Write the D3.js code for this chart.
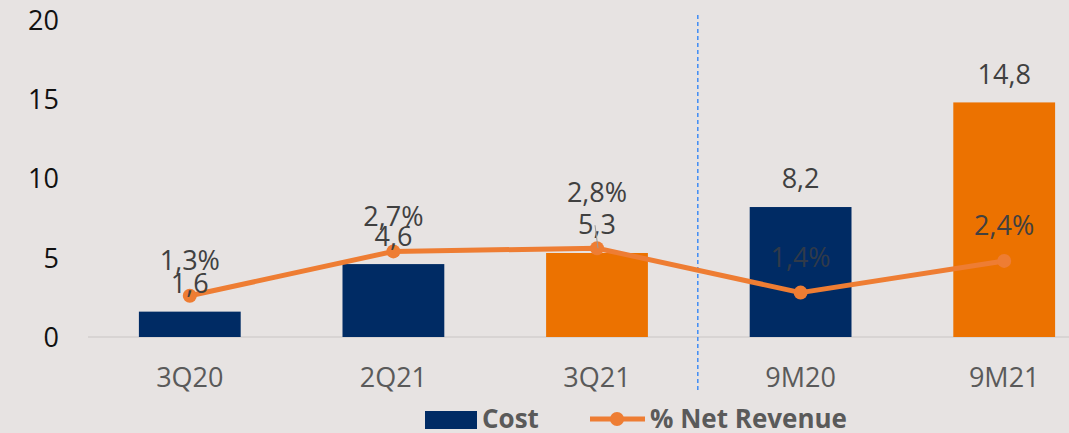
<!DOCTYPE html>
<html>
<head>
<meta charset="utf-8">
<script src="https://cdn.jsdelivr.net/npm/d3@7"></script>
<style>
  html, body { margin: 0; padding: 0; background: #e7e3e2; }
  svg { display: block; }
</style>
</head>
<body>
<svg id="chart" width="1069" height="433"></svg>
<script>

/* ── data ── */
const periods   = ['3Q20', '2Q21', '3Q21', '9M20', '9M21'];
const costs     = [1.6, 4.6, 5.3, 8.2, 14.8];
const pctNetRev = [1.3, 2.7, 2.8, 1.4, 2.4];
const highlight = [false, false, true, false, true];
const yTicks    = [0, 5, 10, 15, 20];

const navy   = '#002b64';
const orange = '#ec7200';
const lineCol = '#ee7d33';
const fontFam = '"Open Sans", "Noto Sans", sans-serif';

const svg = d3.select('#chart');

/* ── scales ── */
const x = d3.scaleBand().domain(periods).range([88, 1106]).paddingInner(0.5).paddingOuter(0.25);
const y = d3.scaleLinear().domain([0, 20]).range([337, 20]);
const y2 = d3.scaleLinear().domain([0, 10]).range([337, 20]);

/* ── baseline ── */
svg.append('line')
  .attr('x1', 88).attr('x2', 1069)
  .attr('y1', y(0)).attr('y2', y(0))
  .attr('stroke', '#d3cfce').attr('stroke-width', 1.5);

/* ── y axis ── */
const yAxis = svg.append('g')
  .attr('transform', 'translate(59,0)')
  .call(d3.axisLeft(y).tickValues(yTicks).tickSize(0).tickPadding(0));
yAxis.select('.domain').remove();
yAxis.selectAll('text')
  .attr('font-family', fontFam).attr('font-size', 27)
  .attr('fill', '#111').attr('dy', '0.35em');

/* ── x axis ── */
const xAxis = svg.append('g')
  .attr('transform', `translate(0,${y(0)})`)
  .call(d3.axisBottom(x).tickSize(0).tickPadding(41));
xAxis.select('.domain').remove();
xAxis.selectAll('text')
  .attr('font-family', fontFam).attr('font-size', 27)
  .attr('fill', '#5a5a5a').attr('dy', '0.35em');

/* ── dashed separator between quarters and 9M ── */
const sepX = (x('3Q21') + x.bandwidth() + x('9M20')) / 2 - 1;
svg.append('line')
  .attr('x1', sepX).attr('x2', sepX)
  .attr('y1', 15).attr('y2', 392)
  .attr('stroke', '#3f8cf5').attr('stroke-width', 1.5)
  .attr('stroke-dasharray', '4,3');

/* ── bars ── */
svg.selectAll('rect.bar')
  .data(periods)
  .join('rect')
  .attr('class', 'bar')
  .attr('x', d => x(d))
  .attr('width', x.bandwidth())
  .attr('y', (d, i) => y(costs[i]))
  .attr('height', (d, i) => y(0) - y(costs[i]))
  .attr('fill', (d, i) => highlight[i] ? orange : navy);

/* ── line ── */
const cx = d => x(d) + x.bandwidth() / 2;
const line = d3.line()
  .x(d => cx(d))
  .y((d, i) => y2(pctNetRev[i]));

svg.append('path')
  .datum(periods)
  .attr('d', line)
  .attr('fill', 'none')
  .attr('stroke', lineCol)
  .attr('stroke-width', 5)
  .attr('stroke-linejoin', 'round');

svg.selectAll('circle.pt')
  .data(periods)
  .join('circle')
  .attr('class', 'pt')
  .attr('cx', d => cx(d))
  .attr('cy', (d, i) => y2(pctNetRev[i]))
  .attr('r', 7)
  .attr('fill', lineCol);

const fmt = v => String(v).replace('.', ',');

/* ── cost labels ── */
svg.selectAll('text.cost-lbl')
  .data(periods)
  .join('text')
  .attr('class', 'cost-lbl')
  .attr('x', d => cx(d))
  .attr('y', (d, i) => y(costs[i]) - 28)
  .attr('dy', '0.35em')
  .attr('text-anchor', 'middle')
  .attr('font-family', fontFam).attr('font-size', 27)
  .attr('fill', '#404040')
  .text((d, i) => fmt(costs[i]));

/* ── percentage labels (3Q21 label was dragged up, with leader line) ── */
const pctLift = d => d === '3Q21' ? 56 : 35;

svg.append('line')
  .attr('x1', cx('3Q21') - 2).attr('y1', y2(2.8) - 23)
  .attr('x2', cx('3Q21') + 1).attr('y2', y2(2.8))
  .attr('stroke', '#999').attr('stroke-width', 1);

svg.selectAll('text.pct-lbl')
  .data(periods)
  .join('text')
  .attr('class', 'pct-lbl')
  .attr('x', d => cx(d))
  .attr('y', (d, i) => y2(pctNetRev[i]) - pctLift(d))
  .attr('dy', '0.35em')
  .attr('text-anchor', 'middle')
  .attr('font-family', fontFam).attr('font-size', 27)
  .attr('fill', '#404040')
  .attr('fill-opacity', d => d === '9M20' ? 0.75 : 1)
  .text((d, i) => fmt(pctNetRev[i]) + '%');

/* ── legend ── */
const legend = svg.append('g').attr('font-family', fontFam)
  .attr('font-size', 26).attr('font-weight', 700).attr('fill', '#5a5a5a');

legend.append('rect')
  .attr('x', 425).attr('y', 411).attr('width', 52).attr('height', 18)
  .attr('fill', navy);
legend.append('text')
  .attr('x', 482).attr('y', 419).attr('dy', '0.35em').text('Cost');

legend.append('line')
  .attr('x1', 590).attr('x2', 645).attr('y1', 419).attr('y2', 419)
  .attr('stroke', lineCol).attr('stroke-width', 5);
legend.append('circle')
  .attr('cx', 617).attr('cy', 419).attr('r', 7).attr('fill', lineCol);
legend.append('text')
  .attr('x', 650).attr('y', 419).attr('dy', '0.35em').text('% Net Revenue');

</script>
</body>
</html>
